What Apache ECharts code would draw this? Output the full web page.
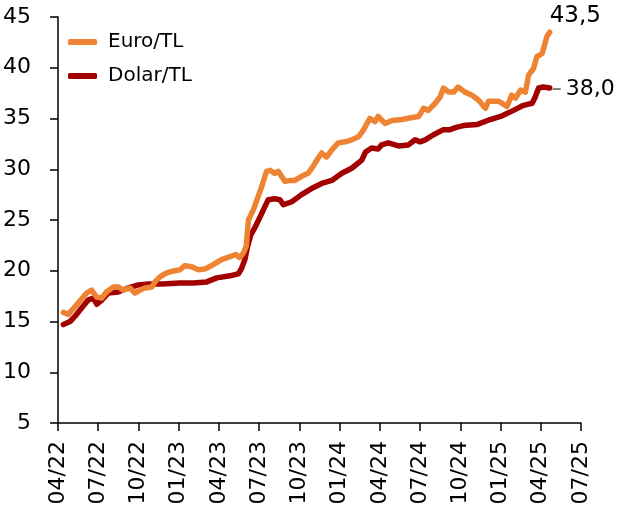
<!DOCTYPE html>
<html><head><meta charset="utf-8">
<script src="https://cdn.jsdelivr.net/npm/echarts@6/dist/echarts.min.js"></script>
<style>html,body{margin:0;padding:0;background:#fff}#c{width:618px;height:521px}</style>
</head><body><div id="c"></div>
<script>
const seriesNames = ['Euro/TL', 'Dolar/TL'];
const euroDates = ['2022-04-13','2022-04-24','2022-05-16','2022-06-05','2022-06-16','2022-06-28','2022-07-09','2022-07-20','2022-08-05','2022-08-16','2022-08-28','2022-09-12','2022-09-23','2022-10-05','2022-10-16','2022-11-01','2022-11-08','2022-11-19','2022-11-30','2022-12-12','2023-01-04','2023-01-15','2023-01-31','2023-02-14','2023-03-01','2023-03-19','2023-04-07','2023-04-26','2023-05-09','2023-05-18','2023-05-26','2023-06-02','2023-06-07','2023-06-18','2023-07-07','2023-07-18','2023-07-26','2023-08-06','2023-08-14','2023-08-22','2023-08-30','2023-09-10','2023-09-21','2023-10-06','2023-10-21','2023-11-02','2023-11-10','2023-11-21','2023-12-02','2023-12-14','2023-12-29','2024-01-14','2024-01-29','2024-02-13','2024-02-24','2024-03-02','2024-03-09','2024-03-21','2024-03-28','2024-04-13','2024-04-28','2024-05-21','2024-06-13','2024-06-28','2024-07-09','2024-07-20','2024-08-05','2024-08-16','2024-08-24','2024-09-05','2024-09-16','2024-09-26','2024-10-12','2024-10-28','2024-11-12','2024-11-27','2024-12-04','2024-12-27','2025-01-16','2025-01-27','2025-02-04','2025-02-15','2025-02-25','2025-03-04','2025-03-15','2025-03-23','2025-04-04','2025-04-15','2025-04-21'];
const euroValues = [15.9,15.7,16.8,17.8,18.1,17.4,17.3,17.9,18.4,18.4,18.1,18.3,17.8,18.1,18.3,18.4,18.9,19.4,19.7,19.9,20.1,20.5,20.4,20.1,20.2,20.6,21.1,21.4,21.6,21.3,21.7,22.4,25.0,26.0,28.3,29.8,29.9,29.6,29.8,29.3,28.8,28.9,28.9,29.3,29.6,30.3,30.9,31.6,31.2,31.9,32.6,32.7,32.9,33.2,33.9,34.5,35.0,34.7,35.2,34.5,34.8,34.9,35.1,35.2,36.0,35.8,36.5,37.1,38.0,37.6,37.6,38.1,37.6,37.3,36.8,36.0,36.7,36.7,36.2,37.3,37.0,37.8,37.6,39.3,39.9,41.1,41.4,43.1,43.5];
const dolarDates = ['2022-04-13','2022-04-28','2022-05-09','2022-05-24','2022-06-08','2022-06-20','2022-06-28','2022-07-09','2022-07-24','2022-08-16','2022-09-08','2022-10-01','2022-10-24','2022-11-23','2023-01-04','2023-02-03','2023-03-04','2023-03-27','2023-04-26','2023-05-15','2023-05-22','2023-05-30','2023-06-05','2023-06-12','2023-06-22','2023-07-03','2023-07-14','2023-07-22','2023-08-06','2023-08-18','2023-08-26','2023-09-14','2023-10-06','2023-10-29','2023-11-21','2023-12-14','2024-01-06','2024-01-29','2024-02-20','2024-02-28','2024-03-13','2024-03-28','2024-04-05','2024-04-20','2024-05-13','2024-06-05','2024-06-20','2024-07-01','2024-07-13','2024-08-01','2024-08-24','2024-09-08','2024-09-20','2024-10-08','2024-11-08','2024-12-08','2025-01-01','2025-01-31','2025-02-21','2025-03-12','2025-03-19','2025-03-27','2025-04-07','2025-04-21'];
const dolarValues = [14.7,15.0,15.5,16.3,17.1,17.3,16.7,17.1,17.8,17.9,18.3,18.6,18.7,18.7,18.8,18.8,18.9,19.3,19.5,19.7,20.2,21.1,22.4,23.5,24.3,25.3,26.3,27.0,27.1,27.0,26.5,26.8,27.5,28.1,28.6,28.9,29.6,30.1,30.9,31.7,32.1,32.0,32.4,32.6,32.3,32.4,32.9,32.7,32.9,33.4,33.9,33.9,34.1,34.3,34.4,34.9,35.2,35.8,36.3,36.5,37.1,38.0,38.1,38.0];
const yTicks = [5, 10, 15, 20, 25, 30, 35, 40, 45];
const xStart = '2022-04-01';
const xEnd = '2025-07-01';

function toMonths(s) {
  const [y, m, d] = s.split('-').map(Number);
  const dim = new Date(y, m, 0).getDate();
  return (y - 2022) * 12 + (m - 4) + (d - 1) / dim;
}
function pairs(dates, vals) { return dates.map((d, i) => [toMonths(d), vals[i]]); }
function fmt(v) { return v.toFixed(1).replace('.', ','); }

const FONT = 'DejaVu Sans';
const chart = echarts.init(document.getElementById('c'), null, {renderer: 'canvas'});
chart.setOption({
  animation: false,
  backgroundColor: '#fff',
  textStyle: {fontFamily: FONT, color: '#000'},
  grid: {left: 58, right: 37, top: 17, bottom: 98, containLabel: false},
  legend: {
    orient: 'vertical', left: 63, top: 27, itemGap: 14,
    itemWidth: 29, itemHeight: 6, icon: 'roundRect',
    textStyle: {fontFamily: FONT, fontSize: 20, color: '#000', padding: [0, 0, 0, 6]},
    data: seriesNames
  },
  xAxis: {
    type: 'value', min: toMonths(xStart), max: toMonths(xEnd), interval: 3,
    axisLine: {lineStyle: {color: '#000', width: 1.5}},
    axisTick: {show: true, length: 8, lineStyle: {color: '#000', width: 1.5}},
    splitLine: {show: false},
    axisLabel: {
      rotate: 90, margin: 18, fontSize: 22, color: '#000', fontFamily: FONT,
      showMinLabel: true, showMaxLabel: true,
      formatter: v => {
        const k = Math.round(v) + 3;
        const mm = (k % 12) + 1;
        const yy = 22 + Math.floor(k / 12);
        return String(mm).padStart(2, '0') + '/' + yy;
      }
    }
  },
  yAxis: {
    type: 'value', min: yTicks[0], max: yTicks[yTicks.length - 1], interval: 5,
    axisLine: {show: true, lineStyle: {color: '#000', width: 1.5}},
    axisTick: {show: true, length: 8, lineStyle: {color: '#000', width: 1.5}},
    splitLine: {show: false},
    axisLabel: {margin: 27, fontSize: 22, color: '#000', fontFamily: FONT}
  },
  series: [
    {
      name: seriesNames[0], type: 'line', data: pairs(euroDates, euroValues),
      showSymbol: false, symbol: 'none', z: 3,
      color: '#EE8433',
      lineStyle: {width: 5.5, color: '#EE8433', cap: 'round', join: 'round'},
      endLabel: {
        show: true, formatter: p => fmt(p.value[1]),
        fontFamily: FONT, fontSize: 23, color: '#000',
        distance: 0, offset: [0, -16]
      }
    },
    {
      name: seriesNames[1], type: 'line', data: pairs(dolarDates, dolarValues),
      showSymbol: false, symbol: 'none', z: 2,
      color: '#A30000',
      lineStyle: {width: 5.5, color: '#A30000', cap: 'round', join: 'round'},
      endLabel: {
        show: true, formatter: p => '{d|}{g|}' + fmt(p.value[1]),
        fontFamily: FONT, fontSize: 22, color: '#000',
        distance: 3, offset: [0, 1],
        rich: {
          d: {width: 8, height: 1.5, backgroundColor: '#555', verticalAlign: 'middle'},
          g: {width: 5}
        }
      }
    }
  ]
});
</script></body></html>
